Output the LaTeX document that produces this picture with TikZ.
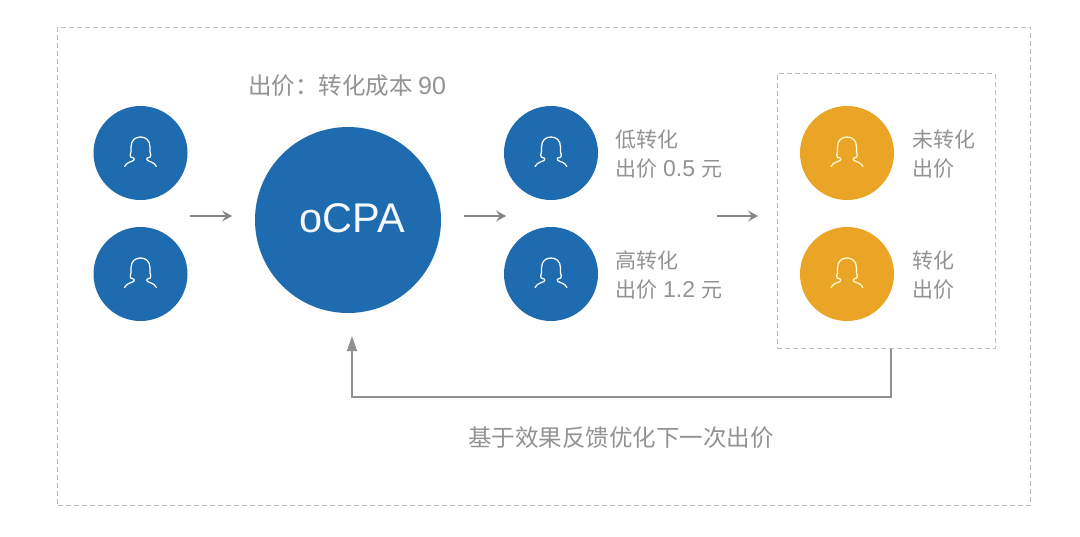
\documentclass[tikz,border=0pt]{standalone}
\usepackage{fontspec}
\setmainfont{Liberation Sans}
\newfontfamily\cjk{Noto Sans CJK SC}[Scale=1]
\newcommand{\lat}[2][23]{{\fontspec{Liberation Sans}\fontsize{#1}{29}\selectfont #2}}
\usetikzlibrary{arrows.meta}
\definecolor{bluec}{HTML}{1F6BB0}
\definecolor{orangec}{HTML}{EAA527}
\definecolor{greyt}{HTML}{939393}
\definecolor{linec}{HTML}{858585}
\definecolor{dashc}{HTML}{BDBDBD}
\tikzset{
 x=1pt,y=-1pt,
 person/.style={circle,minimum size=94pt,inner sep=0pt},
 bluep/.style={person,fill=bluec},
 orangep/.style={person,fill=orangec},
 dashbox/.style={draw=dashc,line width=0.9pt,dash pattern=on 5pt off 3pt,inner sep=0pt},
 flow/.style={draw=linec,line width=1.5pt,-{Stealth[length=10pt,width=11pt,inset=4pt]}},
 feedback/.style={draw=linec!90!white,line width=1.25pt,-{Triangle[length=15pt,width=10pt]}},
 label/.style={text=greyt,font=\cjk\fontsize{21}{29}\selectfont,align=left,anchor=west,inner sep=0pt},
 icon/.pic={\draw[white!82!#1,line width=1.25pt,line cap=round,line join=round]
   (-16,13.5) .. controls (-13,8.5) and (-10,9.5) .. (-7,7.5)
   .. controls (-6,6.5) and (-6,5.5) .. (-7,5)
   .. controls (-9,4.5) and (-11,4) .. (-10.3,2)
   .. controls (-9,0) and (-9.5,-3) .. (-9.5,-6)
   .. controls (-9.5,-13) and (-5,-16) .. (0,-16)
   .. controls (5,-16) and (9.5,-13) .. (9.5,-6)
   .. controls (9.5,-3) and (9,0) .. (10.3,2)
   .. controls (11,4) and (9,4.5) .. (7,5)
   .. controls (6,5.5) and (6,6.5) .. (7,7.5)
   .. controls (10,9.5) and (13,8.5) .. (16,13.5);},
 icon/.default=white
}
\begin{document}
\begin{tikzpicture}
\useasboundingbox (0,0) rectangle (1080,536);
\fill[white] (0,0) rectangle (1080,536);
\node[dashbox,minimum width=973pt,minimum height=478pt] (outer) at (544,266) {};
\node[dashbox,minimum width=218pt,minimum height=275pt] (box) at (886,211) {};
\node[bluep] (u1) at (140.5,153) {};
\node[bluep] (u2) at (140.5,274) {};
\node[circle,fill=bluec,minimum size=186pt,inner sep=0pt,text=white!95!bluec,font=\fontsize{41.5}{44}\selectfont] (ocpa) at (348,220) {\hspace{9pt}\raisebox{4pt}{oCPA}};
\node[bluep] (m1) at (551,153) {};
\node[bluep] (m2) at (551,274) {};
\node[orangep] (o1) at (847,153) {};
\node[orangep] (o2) at (847,274) {};
\foreach \n in {u1,u2,m1,m2} \pic at (\n) {icon=white};
\foreach \n in {o1,o2} \pic at (\n) {icon=yellow};
\node[label,anchor=west,font=\cjk\fontsize{23.5}{29}\selectfont] (t0) at (248,86) {出价：转化成本\hspace{5.5pt}\lat[25]{90}};
\node[label] (t1) at (615,154) {低转化\\出价\hspace{6pt}\lat{0.5}\hspace{6pt}元};
\node[label] (t2) at (615,275) {高转化\\出价\hspace{6pt}\lat{1.2}\hspace{6pt}元};
\node[label] (t3) at (912,154) {未转化\\出价};
\node[label] (t4) at (912,275) {转化\\出价};
\node[label,font=\cjk\fontsize{23.5}{28}\selectfont] (t5) at (468,438) {基于效果反馈优化下一次出价};
\coordinate (a1s) at (190,216); \coordinate (a1e) at (232,216);
\coordinate (a2s) at (464,216); \coordinate (a2e) at (506,216);
\coordinate (a3s) at (717,216); \coordinate (a3e) at (758,216);
\coordinate (fbs) at (891,349); \coordinate (fbm) at (891,397);
\coordinate (fbn) at (352,397); \coordinate (fbe) at (352,336);
\draw[flow] (a1s) -- (a1e);
\draw[flow] (a2s) -- (a2e);
\draw[flow] (a3s) -- (a3e);
\draw[feedback] (fbs) -- (fbm) -- (fbn) -- (fbe);
\end{tikzpicture}
\end{document}
